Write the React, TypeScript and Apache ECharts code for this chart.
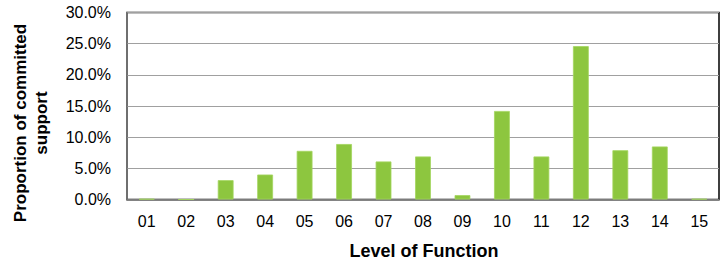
import React, { useEffect, useRef } from "react";
import * as echarts from "echarts";

const categories = ["01", "02", "03", "04", "05", "06", "07", "08", "09", "10", "11", "12", "13", "14", "15"];
const values = [0.1, 0.0, 3.1, 4.0, 7.8, 8.9, 6.1, 6.9, 0.7, 14.2, 6.9, 24.6, 7.9, 8.5, 0.1];
const yTitle = "Proportion of committed\nsupport";
const xTitle = "Level of Function";

export default function App() {
  const ref = useRef<HTMLDivElement>(null);
  useEffect(() => {
    if (!ref.current) return;
    const chart = echarts.init(ref.current, null, { renderer: "svg" });
    const font = "'Liberation Sans', Arial, sans-serif";
    chart.setOption({
      animation: false,
      backgroundColor: "#ffffff",
      grid: {
        left: 127,
        right: 8,
        top: 12.5,
        bottom: 64.5,
        show: true,
        borderColor: "#000000",
        borderWidth: 1.5,
        backgroundColor: "transparent",
      },
      xAxis: {
        type: "category",
        data: categories,
        axisLine: { show: true, lineStyle: { color: "#707070", width: 1.5 } },
        axisTick: { show: false },
        axisLabel: { color: "#000000", fontSize: 16, fontFamily: font, margin: 14 },
        splitLine: { show: false },
      },
      yAxis: {
        type: "value",
        min: 0,
        max: 30,
        interval: 5,
        axisLine: { show: true, lineStyle: { color: "#808080", width: 1.5 } },
        axisTick: { show: false },
        axisLabel: {
          color: "#000000",
          fontSize: 16,
          fontFamily: font,
          margin: 16,
          formatter: (v: number) => v.toFixed(1) + "%",
        },
        splitLine: { show: true, lineStyle: { color: "#a0a0a0", width: 1.2 } },
      },
      series: [
        {
          type: "bar",
          data: values,
          barWidth: "40%",
          itemStyle: { color: "#8dc63f", borderColor: "#a3d65e", borderWidth: 0.8 },
        },
      ],
      graphic: [
        {
          type: "text",
          x: 30.5,
          y: 123,
          rotation: Math.PI / 2,
          style: {
            text: yTitle,
            fill: "#000000",
            font: "bold 17px " + font,
            align: "center",
            verticalAlign: "middle",
            lineHeight: 21,
          },
        },
        {
          type: "text",
          x: 424,
          y: 251,
          style: {
            text: xTitle,
            fill: "#000000",
            font: "bold 18px " + font,
            align: "center",
            verticalAlign: "middle",
          },
        },
      ],
    });
    return () => chart.dispose();
  }, []);
  return <div ref={ref} style={{ width: 727, height: 264, position: "absolute", left: 0, top: 0 }} />;
}
